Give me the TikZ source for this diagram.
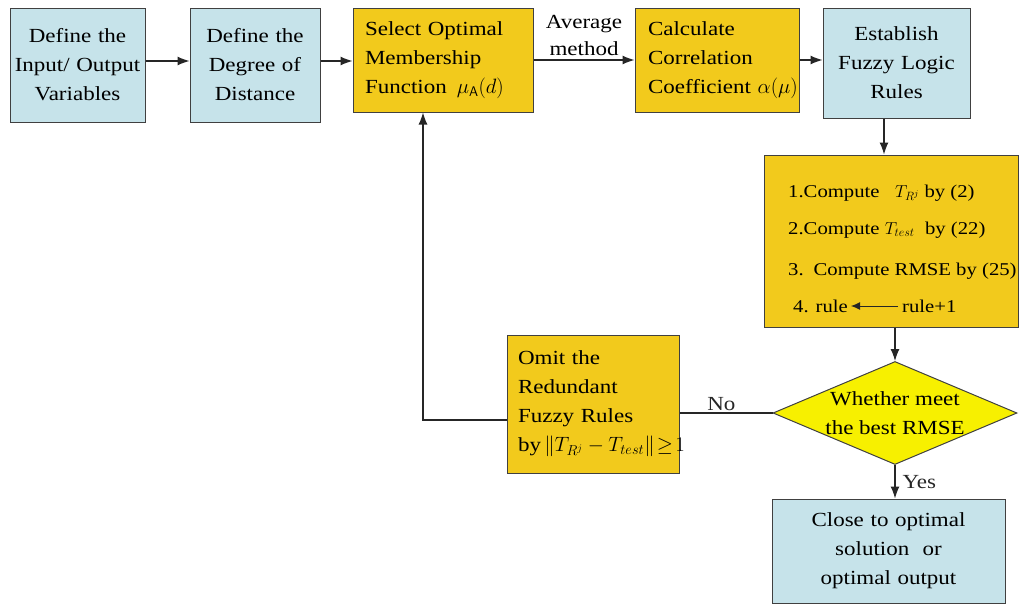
\documentclass[tikz,border=0pt]{standalone}
\usepackage{fontspec}
\setmainfont{Liberation Serif}[FakeStretch=1.15]
\usetikzlibrary{arrows.meta,shapes.geometric,calc}
\definecolor{boxblue}{HTML}{C6E3EA}
\definecolor{boxgold}{HTML}{F2CA1C}
\definecolor{dyellow}{HTML}{F7F000}
\begin{document}
\begin{tikzpicture}[x=1pt,y=-1pt,
  basebox/.style={draw=black!75, line width=1pt, inner sep=0pt, font=\fontsize{20}{29}\selectfont},
  bluebox/.style={basebox, fill=boxblue, align=center},
  goldbox/.style={basebox, fill=boxgold, align=left},
  conn/.style={line width=1.2pt, black!85},
  arr/.style={conn, -{Latex[length=12pt,width=9pt]}},
  lbl/.style={font=\fontsize{20}{28}\selectfont, inner sep=1pt, align=center},
  steptxt/.style={font=\fontsize{18}{22}\selectfont, inner sep=0pt, anchor=base west}]
\useasboundingbox (0,0) rectangle (1021,605);

% top row
\node[bluebox, minimum width=135, minimum height=114, text width=130] (b1) at (77.5,65)
  {Define the\\Input/ Output\\Variables};
\node[bluebox, minimum width=130, minimum height=114, text width=126] (b2) at (255,65)
  {Define the\\Degree of\\Distance};
\node[goldbox, minimum width=180, minimum height=104, text width=156] (b3) at (443,60)
  {Select Optimal\\Membership\\Function~\,$\mu_{\mathsf{A}}(d)$};
\node[goldbox, minimum width=164, minimum height=104, text width=138] (b4) at (717,60)
  {Calculate\\Correlation\\Coefficient~$\alpha(\mu)$};
\node[bluebox, minimum width=147, minimum height=110, text width=140] (b5) at (896.5,63)
  {Establish\\Fuzzy Logic\\Rules};

% rule evaluation steps
\node[basebox, fill=boxgold, minimum width=254, minimum height=172] (b6) at (891.5,241) {};
\node[steptxt] (s1) at (788,197) {1.Compute \ \ $T_{R^j}$ by (2)};
\node[steptxt] (s2) at (788,234) {2.Compute $T_{test}$\ \ by (22)};
\node[steptxt] (s3) at (788,275) {3. \,Compute RMSE by (25)};
\node[steptxt] (s4a) at (793,312) {4. rule};
\node[steptxt] (s4b) at (902,312) {rule+1};

% decision
\node[draw=black!75, line width=1pt, fill=dyellow, diamond, inner sep=0pt,
  minimum width=244, minimum height=103] (d) at (895,413) {};
\node[lbl, font=\fontsize{20}{29}\selectfont] (dt) at (895,413) {Whether meet\\the best RMSE};

\node[bluebox, minimum width=233, minimum height=104, text width=226] (b7) at (888.5,551)
  {Close to optimal\\solution \ or\\optimal output};

\node[goldbox, minimum width=172, minimum height=138, text width=150] (b8) at (593,404)
  {Omit the\\Redundant\\Fuzzy Rules\\\mbox{by\,$\left\|T_{R^j}-T_{test}\right\|\!\geq\! 1$}};

% connectors
\draw[arr] (b1.east |- 0,61) -- (b2.west |- 0,61);
\draw[arr] (b2.east |- 0,61) -- (b3.west |- 0,61);
\draw[arr] (b3.east) -- (b4.west);
\draw[arr] (b4.east) -- (b4.east -| b5.west);
\node[lbl] (avg) at (584,35) {Average\\[-1pt]method};
\draw[arr] ([xshift=-12.5pt]b5.south) -- ([xshift=-12.5pt]b5.south |- b6.north);
\draw[arr] (d.north |- b6.south) -- (d.north);
\draw[arr] (d.south) -- (d.south |- b7.north) node[lbl, midway, anchor=west, xshift=6pt] (yes) {Yes};
\draw[conn] (d.west) -- (d.west -| b8.east) node[lbl, pos=0.55, anchor=south, yshift=1pt] (no) {No};
\coordinate (loop) at (423,420);
\draw[arr] (b8.west |- loop) -- (loop) -- (loop |- b3.south);
\draw[conn, line width=1pt, -{Latex[length=9pt,width=8pt]}] ([xshift=-4pt,yshift=6pt]s4b.base west) -- ([xshift=3pt,yshift=6pt]s4a.base east);
\end{tikzpicture}
\end{document}
